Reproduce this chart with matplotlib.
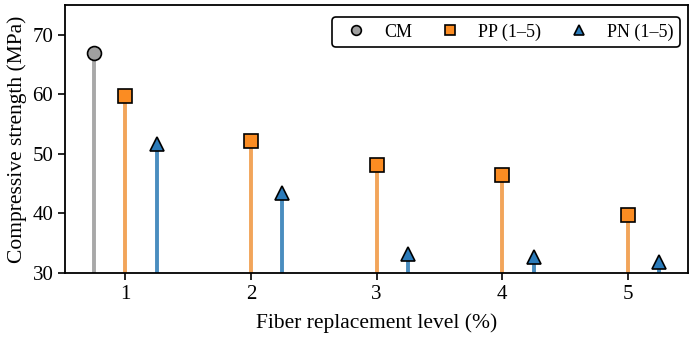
import numpy as np
import matplotlib
matplotlib.use("Agg")
import matplotlib.pyplot as plt

plt.rcParams['font.family'] = ['Liberation Serif', 'DejaVu Serif']

levels = [1, 2, 3, 4, 5]
cm_value = 67.0
pp_values = [59.7, 52.2, 48.1, 46.4, 39.7]
pn_values = [51.6, 43.5, 33.2, 32.6, 31.8]

fig, ax = plt.subplots(figsize=(6.93, 3.37), dpi=100)
x = np.array(levels, dtype=float)
base = 30

# CM reference stem
ax.vlines(0.75, base, cm_value, color='#a8a8a8', lw=2.8, zorder=2)
ax.plot([0.75], [cm_value], 'o', ms=10, mfc='#a0a0a0', mec='black', mew=1.2,
        zorder=3, label='CM')

# PP stems
ax.vlines(x, base, pp_values, color='#f2a55a', lw=2.8, zorder=2)
ax.plot(x, pp_values, 's', ms=10, mfc='#fb8c22', mec='black', mew=1.2,
        ls='none', zorder=3, label='PP (1\u20135)')

# PN stems
ax.vlines(x + 0.25, base, pn_values, color='#4a8dbf', lw=2.8, zorder=2)
ax.plot(x + 0.25, pn_values, '^', ms=10, mfc='#2b7bba', mec='black', mew=1.2,
        ls='none', zorder=3, label='PN (1\u20135)')

ax.set_xlim(0.52, 5.48)
ax.set_ylim(30, 75)
ax.set_xticks(levels)
ax.set_yticks([30, 40, 50, 60, 70])
ax.tick_params(labelsize=15, width=1.2, length=5)
for s in ax.spines.values():
    s.set_linewidth(1.3)
ax.set_xlabel('Fiber replacement level (%)', fontsize=15.5, labelpad=7)
ax.set_ylabel('Compressive strength (MPa)', fontsize=15.5)

leg = ax.legend(loc='upper right', ncol=3, fontsize=13, frameon=True,
                fancybox=True, columnspacing=1.1, handletextpad=0.55,
                borderpad=0.35, markerscale=0.7, borderaxespad=0,
                bbox_to_anchor=(0.987, 0.955))
leg.get_frame().set_edgecolor('black')
leg.get_frame().set_linewidth(1.2)
leg.get_frame().set_alpha(1)

fig.subplots_adjust(left=0.094, right=0.993, top=0.985, bottom=0.19)
fig.savefig('out.png', dpi=100)
plt.close(fig)
